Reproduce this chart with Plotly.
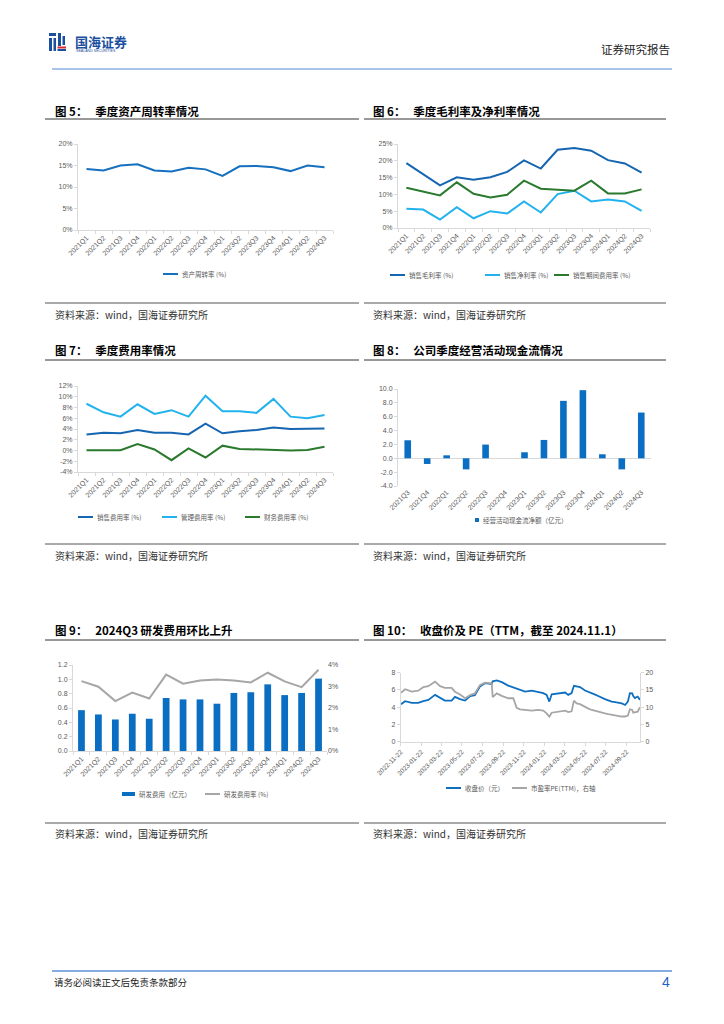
import plotly.graph_objects as go

W, H = 724, 1024

# ---------------- DATA ----------------
quarters15 = ["2021Q1", "2021Q2", "2021Q3", "2021Q4", "2022Q1", "2022Q2", "2022Q3", "2022Q4",
              "2023Q1", "2023Q2", "2023Q3", "2023Q4", "2024Q1", "2024Q2", "2024Q3"]
quarters13 = ["2021Q3", "2021Q4", "2022Q1", "2022Q2", "2022Q3", "2022Q4", "2023Q1", "2023Q2",
              "2023Q3", "2023Q4", "2024Q1", "2024Q2", "2024Q3"]

# Fig 5: asset turnover (%)
asset_turnover = [14.2, 13.85, 15.0, 15.3, 13.85, 13.6, 14.5, 14.1, 12.6, 14.8, 14.9, 14.6, 13.7, 15.0, 14.6]

# Fig 6: margins (%)
gross_margin = [19.3, 16.1, 12.7, 15.1, 14.4, 15.1, 16.7, 20.1, 17.7, 23.3, 23.8, 23.0, 20.2, 19.2, 16.5]
net_margin = [5.7, 5.5, 2.5, 6.2, 2.9, 5.0, 4.3, 7.9, 4.6, 10.1, 11.1, 7.9, 8.5, 7.9, 5.1]
period_expense = [12.0, 10.9, 9.7, 13.6, 10.2, 9.1, 9.9, 14.1, 11.7, 11.4, 11.1, 14.1, 10.3, 10.3, 11.5]

# Fig 7: expense ratios (%)
sales_exp = [3.0, 3.3, 3.2, 3.8, 3.3, 3.3, 3.0, 5.0, 3.2, 3.6, 3.8, 4.3, 4.0, 4.1, 4.1]
admin_exp = [8.7, 7.1, 6.3, 8.6, 6.8, 7.5, 6.3, 10.2, 7.3, 7.3, 7.0, 9.6, 6.3, 6.0, 6.6]
fin_exp = [0.05, 0.1, 0.05, 1.2, 0.2, -1.8, 0.4, -1.3, 0.9, 0.3, 0.2, 0.05, 0.0, 0.1, 0.7]

# Fig 8: operating cash flow (100m yuan)
op_cashflow = [2.6, -0.82, 0.43, -1.6, 1.98, 0.0, 0.87, 2.65, 8.29, 9.83, 0.58, -1.6, 6.6]

# Fig 9: R&D expense and ratio
rd_expense = [0.57, 0.51, 0.44, 0.52, 0.45, 0.74, 0.72, 0.72, 0.66, 0.81, 0.82, 0.93, 0.78, 0.81, 1.01]
rd_ratio = [3.25, 2.99, 2.32, 2.72, 2.44, 3.55, 3.13, 3.28, 3.33, 3.28, 3.19, 3.64, 3.24, 2.97, 3.78]

# Fig 10: close price and PE(TTM)
px_dates = ["2022-11-23", "2022-12-05", "2022-12-25", "2023-01-13", "2023-01-28", "2023-02-12",
            "2023-03-04", "2023-03-19", "2023-04-02", "2023-04-22", "2023-05-02", "2023-05-17",
            "2023-06-01", "2023-06-16", "2023-06-30", "2023-07-15", "2023-07-30", "2023-08-19",
            "2023-08-22", "2023-09-03", "2023-09-18", "2023-10-07", "2023-10-22", "2023-11-01",
            "2023-11-11", "2023-11-26", "2023-12-16", "2024-01-04", "2024-01-19", "2024-01-29",
            "2024-02-06", "2024-02-13", "2024-03-04", "2024-03-24", "2024-04-02", "2024-04-12",
            "2024-04-19", "2024-04-27", "2024-05-07", "2024-05-22", "2024-06-01", "2024-06-11",
            "2024-06-21", "2024-06-30", "2024-07-10", "2024-07-20", "2024-07-30", "2024-08-09",
            "2024-08-19", "2024-08-29", "2024-09-08", "2024-09-18", "2024-09-26", "2024-10-02",
            "2024-10-09", "2024-10-12", "2024-10-17", "2024-10-25", "2024-11-01"]
close_price = [4.35, 4.7, 4.5, 4.5, 4.7, 4.85, 5.43, 5.1, 4.77, 4.77, 5.2, 4.93,
               4.77, 5.3, 5.4, 6.4, 6.79, 6.7, 7.0, 7.1, 6.9, 6.5, 6.3, 6.1,
               6.0, 5.8, 5.93, 5.75, 5.63, 5.43, 4.65, 5.5, 5.63, 5.7, 5.43, 5.63,
               6.48, 6.4, 6.33, 5.93, 5.8, 5.63, 5.45, 5.3, 5.1, 4.93, 4.8, 4.65,
               4.6, 4.55, 4.45, 4.26, 4.65, 5.63, 5.6, 5.3, 5.05, 5.23, 4.85]
pe_ttm = [14.2, 15.2, 14.5, 14.8, 15.8, 16.1, 17.4, 16.1, 15.6, 15.6, 14.5, 13.7,
          12.6, 13.5, 14.0, 16.4, 17.1, 16.9, 12.9, 14.0, 13.3, 12.6, 12.6, 9.8,
          9.4, 9.2, 9.0, 9.2, 9.0, 8.2, 7.25, 8.4, 8.7, 9.0, 8.6, 8.8,
          11.9, 11.1, 10.9, 10.0, 9.6, 9.2, 8.9, 8.6, 8.4, 8.2, 8.0, 7.8,
          7.5, 7.4, 7.3, 7.3, 7.6, 9.4, 9.2, 8.4, 8.5, 8.7, 10.0]
date_ticks = ["2022-11-22", "2023-01-22", "2023-03-22", "2023-05-22", "2023-07-22", "2023-09-22",
              "2023-11-22", "2024-01-22", "2024-03-22", "2024-05-22", "2024-07-22", "2024-09-22"]

# tick labels
pct5_vals = [0, 5, 10, 15, 20]
pct5_text = ["0%", "5%", "10%", "15%", "20%"]
pct6_vals = [0, 5, 10, 15, 20, 25]
pct6_text = ["0%", "5%", "10%", "15%", "20%", "25%"]
pct7_vals = [-4, -2, 0, 2, 4, 6, 8, 10, 12]
pct7_text = ["-4%", "-2%", "0%", "2%", "4%", "6%", "8%", "10%", "12%"]
cf_vals = [-4, -2, 0, 2, 4, 6, 8, 10]
cf_text = ["-4.0", "-2.0", "0.0", "2.0", "4.0", "6.0", "8.0", "10.0"]
rd_vals = [0, 0.2, 0.4, 0.6, 0.8, 1.0, 1.2]
rd_text = ["0.0", "0.2", "0.4", "0.6", "0.8", "1.0", "1.2"]
rdr_vals = [0, 1, 2, 3, 4]
rdr_text = ["0%", "1%", "2%", "3%", "4%"]
price_vals = [0, 2, 4, 6, 8]
pe_vals = [0, 5, 10, 15, 20]

# ---------------- STYLE ----------------
C_BLUE = "#1570BF"
C_DBLUE = "#1565B0"
C_LBLUE = "#22B2EE"
C_GREEN = "#2A7A2E"
C_BAR = "#0A6FC2"
C_GRAY = "#A6A6A6"
AX = "#D9D9D9"
TXT = "#595959"
CJK = "Noto Sans CJK SC"
LAT = "Liberation Sans, Arial"


def fx(x):
    return x / W


def fy(y):
    return 1 - y / H


fig = go.Figure()
shapes = []
ann = []


def hline(x0, x1, y, color, width):
    shapes.append(dict(type="line", xref="paper", yref="paper", x0=fx(x0), x1=fx(x1),
                       y0=fy(y), y1=fy(y), line=dict(color=color, width=width)))


def rect(x0, y0, x1, y1, color):
    shapes.append(dict(type="rect", xref="paper", yref="paper", x0=fx(x0), x1=fx(x1),
                       y0=fy(y1), y1=fy(y0), fillcolor=color, line=dict(width=0)))


def text(x, y, s, size, color="#000000", family=CJK, xanchor="left", bold=False):
    if bold:
        s = "<b>" + s + "</b>"
    ann.append(dict(x=fx(x), y=fy(y), xref="paper", yref="paper", text=s, showarrow=False,
                    xanchor=xanchor, yanchor="middle", font=dict(size=size, color=color, family=family)))


def cat_x(name, x0, x1, anchor, cats, n):
    fig.update_layout(**{name: dict(
        domain=[fx(x0), fx(x1)], anchor=anchor, type="category",
        categoryorder="array", categoryarray=cats, automargin=False,
        range=[-0.5, n - 0.5], showline=True, linecolor=AX, linewidth=1,
        ticks="outside", tickson="boundaries", ticklen=3, tickcolor=AX,
        tickangle=-45, tickfont=dict(size=7, color=TXT, family=LAT),
        showgrid=False, zeroline=False, fixedrange=True)})


def val_y(name, ytop, ybot, anchor, rng, tickvals, ticktext, side="left",
          overlay=None, showline=True, ticks="outside"):
    d = dict(domain=[fy(ybot), fy(ytop)], anchor=anchor, range=rng, automargin=False,
             tickmode="array", tickvals=tickvals, ticktext=ticktext,
             showline=showline, linecolor=AX, linewidth=1,
             ticks=ticks, ticklen=3, tickcolor=AX, side=side,
             tickfont=dict(size=7, color=TXT, family=LAT),
             showgrid=False, zeroline=False, fixedrange=True)
    if overlay:
        d["overlaying"] = overlay
    fig.update_layout(**{name: d})


def leg_line(x0, y, label, color, width=2):
    shapes.append(dict(type="line", xref="paper", yref="paper", x0=fx(x0), x1=fx(x0 + 15),
                       y0=fy(y), y1=fy(y), line=dict(color=color, width=width)))
    text(x0 + 17, y, label, 6.5, TXT)


def leg_box(x0, y, w, h, label, color):
    rect(x0, y - h / 2, x0 + w, y + h / 2, color)
    text(x0 + w + 2, y, label, 6.5, TXT)


# ---- Fig 5 ----
fig.add_trace(go.Scatter(x=quarters15, y=asset_turnover, mode="lines", name="资产周转率 (%)",
                         line=dict(color=C_BLUE, width=2), xaxis="x", yaxis="y"))
cat_x("xaxis", 78, 333, "y", quarters15, 15)
val_y("yaxis", 144, 230, "x", [0, 20], pct5_vals, pct5_text)
leg_line(163, 274, "资产周转率 (%)", C_BLUE)

# ---- Fig 6 ----
fig6_series = [(gross_margin, "销售毛利率 (%)", C_DBLUE, 390),
               (net_margin, "销售净利率 (%)", C_LBLUE, 485),
               (period_expense, "销售期间费用率 (%)", C_GREEN, 554)]
for vals, nm, col, lx in fig6_series:
    fig.add_trace(go.Scatter(x=quarters15, y=vals, mode="lines", name=nm,
                             line=dict(color=col, width=2), xaxis="x2", yaxis="y2"))
    leg_line(lx, 275, nm, col)
cat_x("xaxis2", 398, 650, "y2", quarters15, 15)
val_y("yaxis2", 144, 228, "x2", [0, 25], pct6_vals, pct6_text)

# ---- Fig 7 ----
fig7_series = [(sales_exp, "销售费用率 (%)", C_DBLUE, 78),
               (admin_exp, "管理费用率 (%)", C_LBLUE, 162),
               (fin_exp, "财务费用率 (%)", C_GREEN, 245)]
for vals, nm, col, lx in fig7_series:
    fig.add_trace(go.Scatter(x=quarters15, y=vals, mode="lines", name=nm,
                             line=dict(color=col, width=2), xaxis="x3", yaxis="y3"))
    leg_line(lx, 517, nm, col)
cat_x("xaxis3", 78, 333, "y3", quarters15, 15)
val_y("yaxis3", 386, 472, "x3", [-4, 12], pct7_vals, pct7_text)

# ---- Fig 8 ----
fig.add_trace(go.Bar(x=quarters13, y=op_cashflow, name="经营活动现金流净额（亿元）",
                     marker=dict(color=C_BAR, line=dict(width=0)), width=0.34,
                     xaxis="x4", yaxis="y4"))
cat_x("xaxis4", 398, 651, "y4", quarters13, 13)
fig.update_layout(xaxis4=dict(showline=False, ticks=""))
val_y("yaxis4", 389, 486, "x4", [-4, 10], cf_vals, cf_text)
fig.update_layout(yaxis4=dict(zeroline=True, zerolinecolor=AX, zerolinewidth=1))
leg_box(475, 520, 4, 4, "经营活动现金流净额（亿元）", C_BAR)

# ---- Fig 9 ----
fig.add_trace(go.Bar(x=quarters15, y=rd_expense, name="研发费用（亿元）",
                     marker=dict(color=C_BAR, line=dict(width=0)), width=0.4,
                     xaxis="x5", yaxis="y5"))
fig.add_trace(go.Scatter(x=quarters15, y=rd_ratio, mode="lines", name="研发费用率 (%)",
                         line=dict(color=C_GRAY, width=2), xaxis="x5", yaxis="y7"))
cat_x("xaxis5", 73, 327, "y5", quarters15, 15)
val_y("yaxis5", 665, 751, "x5", [0, 1.2], rd_vals, rd_text)
val_y("yaxis7", 665, 751, "x5", [0, 4], rdr_vals, rdr_text, side="right",
      overlay="y5", showline=False, ticks="")
leg_box(122, 794, 13, 4, "研发费用（亿元）", C_BAR)
leg_line(205, 794, "研发费用率 (%)", C_GRAY)

# ---- Fig 10 ----
fig.add_trace(go.Scatter(x=px_dates, y=close_price, mode="lines", name="收盘价（元）",
                         line=dict(color="#0E6FC0", width=1.8), xaxis="x6", yaxis="y6"))
fig.add_trace(go.Scatter(x=px_dates, y=pe_ttm, mode="lines", name="市盈率PE(TTM)，右轴",
                         line=dict(color=C_GRAY, width=1.8), xaxis="x6", yaxis="y8"))
fig.update_layout(xaxis6=dict(
    domain=[fx(400.7), fx(640)], anchor="y6", type="date", automargin=False,
    range=["2022-11-22", "2024-11-01"], tickmode="array", tickvals=date_ticks, tickformat="%Y-%m-%d",
    showline=True, linecolor=AX, ticks="outside", ticklen=3, tickcolor=AX, tickangle=-45,
    tickfont=dict(size=6.5, color=TXT, family=LAT), showgrid=False, zeroline=False, fixedrange=True))
val_y("yaxis6", 672.7, 741.7, "x6", [0, 8], price_vals, [str(v) for v in price_vals])
val_y("yaxis8", 672.7, 741.7, "x6", [0, 20], pe_vals, [str(v) for v in pe_vals],
      side="right", overlay="y6")
leg_line(446, 788, "收盘价（元）", "#0E6FC0")
leg_line(512, 788, "市盈率PE(TTM)，右轴", C_GRAY)

# ---------------- PAGE DECORATION ----------------
LOGO = "#1B4FA0"
rect(49, 33, 56, 36, LOGO)
rect(49, 38, 52, 51, LOGO)
rect(53.5, 38, 56, 51, LOGO)
rect(58, 33, 61, 46, LOGO)
rect(57.5, 46.5, 66, 48.5, "#D7282F")
rect(57.5, 49, 66, 51, LOGO)
rect(62.5, 36, 65, 45, LOGO)
text(73, 41, "国海证券", 13, LOGO, bold=True)
text(74, 50.5, "SEALAND SECURITIES", 3.6, LOGO, family=LAT)
text(672, 49, "证券研究报告", 11.5, "#222222", xanchor="right")
hline(52, 672, 69, "#A9C4EB", 2)

rows = [(111, 119, 303, 314), (350, 360, 544, 555), (630, 640, 823, 833)]
titles = [("图 5：   季度资产周转率情况", "图 6：   季度毛利率及净利率情况"),
          ("图 7：   季度费用率情况", "图 8：   公司季度经营活动现金流情况"),
          ("图 9：   2024Q3 研发费用环比上升", "图 10：   收盘价及 PE（TTM，截至 2024.11.1）")]
for (ty, ly, sy, sty), (tl, tr) in zip(rows, titles):
    text(53, ty, tl, 11.5, "#000000", bold=True)
    text(371, ty, tr, 11.5, "#000000", bold=True)
    hline(45, 359, ly, "#333333", 1)
    hline(364, 666, ly, "#333333", 1)
    hline(45, 359, sy, "#555555", 1)
    hline(364, 666, sy, "#555555", 1)
    text(53, sty, "资料来源：wind，国海证券研究所", 10, "#333333")
    text(371, sty, "资料来源：wind，国海证券研究所", 10, "#333333")

hline(52, 672, 971, "#5B8FD9", 1.5)
text(52, 982, "请务必阅读正文后免责条款部分", 9.5, "#222222")
text(672, 982, "4", 14, "#1F5FC8", family=LAT, xanchor="right")

fig.update_layout(
    template="none",
    width=W, height=H, autosize=False,
    margin=dict(l=0, r=0, t=0, b=0, pad=0),
    paper_bgcolor="white", plot_bgcolor="rgba(0,0,0,0)",
    shapes=shapes, annotations=ann, bargap=0.5, showlegend=False,
    font=dict(family=CJK, color=TXT),
)

fig.write_html("out.html", config={"displayModeBar": False, "staticPlot": True},
               post_script="document.body.style.margin='0';document.body.style.overflow='hidden';")
